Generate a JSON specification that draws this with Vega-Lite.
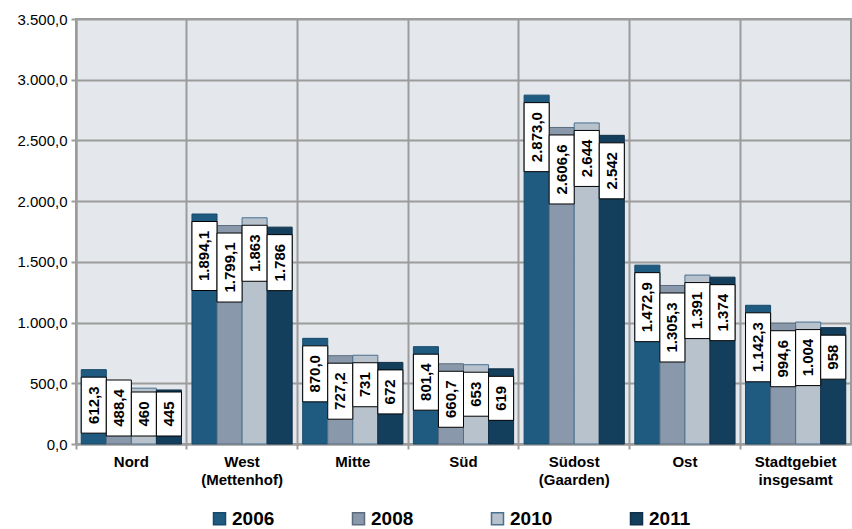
{
  "$schema": "https://vega.github.io/schema/vega-lite/v6.json",
  "width": 775,
  "height": 425,
  "autosize": {"type": "none"},
  "padding": {"left": 76, "top": 19, "right": 1, "bottom": 85},
  "background": "white",
  "config": {
    "font": "Liberation Sans",
    "locale": {"number": {"decimal": ",", "thousands": ".", "grouping": [3], "currency": ["", " €"]}},
    "view": {"fill": "#E4E7EB", "stroke": "#9c9c9c", "strokeWidth": 2},
    "axis": {"domainColor": "#9c9c9c", "domainWidth": 2, "gridColor": "#9c9c9c", "gridWidth": 2, "gridOpacity": 1, "tickColor": "#9c9c9c", "tickWidth": 2, "labelColor": "black", "labelFont": "Liberation Sans"},
    "axisY": {"values": [0, 500, 1000, 1500, 2000, 2500, 3000, 3500], "format": ",.1f", "tickSize": 5, "labelPadding": 4, "labelFontSize": 15, "grid": true, "title": null}
  },
  "data": {
    "values": [
      {"region": "Nord", "year": 2006, "value": 612.3},
      {"region": "Nord", "year": 2008, "value": 488.4},
      {"region": "Nord", "year": 2010, "value": 460},
      {"region": "Nord", "year": 2011, "value": 445},
      {"region": "West (Mettenhof)", "year": 2006, "value": 1894.1},
      {"region": "West (Mettenhof)", "year": 2008, "value": 1799.1},
      {"region": "West (Mettenhof)", "year": 2010, "value": 1863},
      {"region": "West (Mettenhof)", "year": 2011, "value": 1786},
      {"region": "Mitte", "year": 2006, "value": 870.0},
      {"region": "Mitte", "year": 2008, "value": 727.2},
      {"region": "Mitte", "year": 2010, "value": 731},
      {"region": "Mitte", "year": 2011, "value": 672},
      {"region": "Süd", "year": 2006, "value": 801.4},
      {"region": "Süd", "year": 2008, "value": 660.7},
      {"region": "Süd", "year": 2010, "value": 653},
      {"region": "Süd", "year": 2011, "value": 619},
      {"region": "Südost (Gaarden)", "year": 2006, "value": 2873.0},
      {"region": "Südost (Gaarden)", "year": 2008, "value": 2606.6},
      {"region": "Südost (Gaarden)", "year": 2010, "value": 2644},
      {"region": "Südost (Gaarden)", "year": 2011, "value": 2542},
      {"region": "Ost", "year": 2006, "value": 1472.9},
      {"region": "Ost", "year": 2008, "value": 1305.3},
      {"region": "Ost", "year": 2010, "value": 1391},
      {"region": "Ost", "year": 2011, "value": 1374},
      {"region": "Stadtgebiet insgesamt", "year": 2006, "value": 1142.3},
      {"region": "Stadtgebiet insgesamt", "year": 2008, "value": 994.6},
      {"region": "Stadtgebiet insgesamt", "year": 2010, "value": 1004},
      {"region": "Stadtgebiet insgesamt", "year": 2011, "value": 958}
    ]
  },
  "encoding": {
    "x": {
      "field": "region", "type": "nominal", "sort": null, "title": null,
      "scale": {"paddingInner": 0, "paddingOuter": 0},
      "axis": {"bandPosition": 0, "grid": true, "tickSize": 5, "labelAngle": 0, "labelPadding": 5, "labelFontSize": 15, "labelFontWeight": "bold", "labelLineHeight": 18, "labelExpr": "split(datum.label, ' ')", "labelLimit": 200}
    },
    "xOffset": {"field": "year", "type": "nominal", "scale": {"paddingInner": 0, "paddingOuter": 0.21}}
  },
  "layer": [
    {
      "mark": {"type": "bar", "strokeWidth": 1},
      "encoding": {
        "y": {"field": "value", "type": "quantitative", "stack": null, "title": null,
          "scale": {"domain": [0, 3500], "nice": false}},
        "color": {"field": "year", "type": "nominal",
          "scale": {"domain": [2006, 2008, 2010, 2011], "range": ["#1F5A80", "#8999AB", "#B8C2CC", "#143F5C"]},
          "legend": {"orient": "none", "legendX": 134, "legendY": 490, "direction": "horizontal", "columns": 4, "columnPadding": 74, "symbolType": "square", "symbolSize": 144, "symbolStrokeWidth": 1.5, "labelFontSize": 19, "labelFontWeight": "bold", "labelColor": "black", "labelOffset": 3, "labelLimit": 300, "title": null, "padding": 0}},
        "stroke": {"field": "year", "type": "nominal",
          "scale": {"domain": [2006, 2008, 2010, 2011], "range": ["#164a6a", "#5c6c7e", "#4a7090", "#0f3048"]},
          "legend": {"orient": "none", "legendX": 134, "legendY": 490, "direction": "horizontal", "columns": 4, "columnPadding": 74, "symbolType": "square", "symbolSize": 144, "symbolStrokeWidth": 1.5, "labelFontSize": 19, "labelFontWeight": "bold", "labelColor": "black", "labelOffset": 3, "labelLimit": 300, "title": null, "padding": 0}}
      }
    },
    {
      "transform": [{"filter": "datum.year <= 2008 && datum.value >= 1000"}],
      "layer": [
        {"mark": {"type": "bar", "fill": "white", "stroke": "black", "strokeWidth": 1, "yOffset": 7.5, "y2Offset": 76.5},
         "encoding": {"y": {"field": "value", "type": "quantitative", "title": null}, "y2": {"field": "value"}}},
        {"mark": {"type": "text", "angle": 270, "fontSize": 15, "fontWeight": "bold", "color": "black", "align": "center", "baseline": "middle", "yOffset": 42},
         "encoding": {"y": {"field": "value", "type": "quantitative", "title": null}, "text": {"field": "value", "type": "quantitative", "format": ",.1f"}}}
      ]
    },
    {
      "transform": [{"filter": "datum.year <= 2008 && datum.value < 1000 && datum.value >= 550"}],
      "layer": [
        {"mark": {"type": "bar", "fill": "white", "stroke": "black", "strokeWidth": 1, "yOffset": 7.5, "y2Offset": 63.5},
         "encoding": {"y": {"field": "value", "type": "quantitative", "title": null}, "y2": {"field": "value"}}},
        {"mark": {"type": "text", "angle": 270, "fontSize": 15, "fontWeight": "bold", "color": "black", "align": "center", "baseline": "middle", "yOffset": 35.5},
         "encoding": {"y": {"field": "value", "type": "quantitative", "title": null}, "text": {"field": "value", "type": "quantitative", "format": ",.1f"}}}
      ]
    },
    {
      "transform": [{"filter": "datum.year <= 2008 && datum.value < 550"}],
      "layer": [
        {"mark": {"type": "bar", "fill": "white", "stroke": "black", "strokeWidth": 1, "yOffset": -8, "y2Offset": -64},
         "encoding": {"y": {"datum": 0, "type": "quantitative", "title": null}, "y2": {"datum": 0}}},
        {"mark": {"type": "text", "angle": 270, "fontSize": 15, "fontWeight": "bold", "color": "black", "align": "center", "baseline": "middle", "yOffset": -36},
         "encoding": {"y": {"datum": 0, "type": "quantitative", "title": null}, "text": {"field": "value", "type": "quantitative", "format": ",.1f"}}}
      ]
    },
    {
      "transform": [{"filter": "datum.year >= 2010 && datum.value >= 1000"}],
      "layer": [
        {"mark": {"type": "bar", "fill": "white", "stroke": "black", "strokeWidth": 1, "yOffset": 7.5, "y2Offset": 63.5},
         "encoding": {"y": {"field": "value", "type": "quantitative", "title": null}, "y2": {"field": "value"}}},
        {"mark": {"type": "text", "angle": 270, "fontSize": 15, "fontWeight": "bold", "color": "black", "align": "center", "baseline": "middle", "yOffset": 35.5},
         "encoding": {"y": {"field": "value", "type": "quantitative", "title": null}, "text": {"field": "value", "type": "quantitative", "format": ",d"}}}
      ]
    },
    {
      "transform": [{"filter": "datum.year >= 2010 && datum.value < 1000 && datum.value >= 550"}],
      "layer": [
        {"mark": {"type": "bar", "fill": "white", "stroke": "black", "strokeWidth": 1, "yOffset": 7.5, "y2Offset": 51.5},
         "encoding": {"y": {"field": "value", "type": "quantitative", "title": null}, "y2": {"field": "value"}}},
        {"mark": {"type": "text", "angle": 270, "fontSize": 15, "fontWeight": "bold", "color": "black", "align": "center", "baseline": "middle", "yOffset": 29.5},
         "encoding": {"y": {"field": "value", "type": "quantitative", "title": null}, "text": {"field": "value", "type": "quantitative", "format": ",d"}}}
      ]
    },
    {
      "transform": [{"filter": "datum.year >= 2010 && datum.value < 550"}],
      "layer": [
        {"mark": {"type": "bar", "fill": "white", "stroke": "black", "strokeWidth": 1, "yOffset": -8, "y2Offset": -52},
         "encoding": {"y": {"datum": 0, "type": "quantitative", "title": null}, "y2": {"datum": 0}}},
        {"mark": {"type": "text", "angle": 270, "fontSize": 15, "fontWeight": "bold", "color": "black", "align": "center", "baseline": "middle", "yOffset": -30},
         "encoding": {"y": {"datum": 0, "type": "quantitative", "title": null}, "text": {"field": "value", "type": "quantitative", "format": ",d"}}}
      ]
    }
  ]
}
